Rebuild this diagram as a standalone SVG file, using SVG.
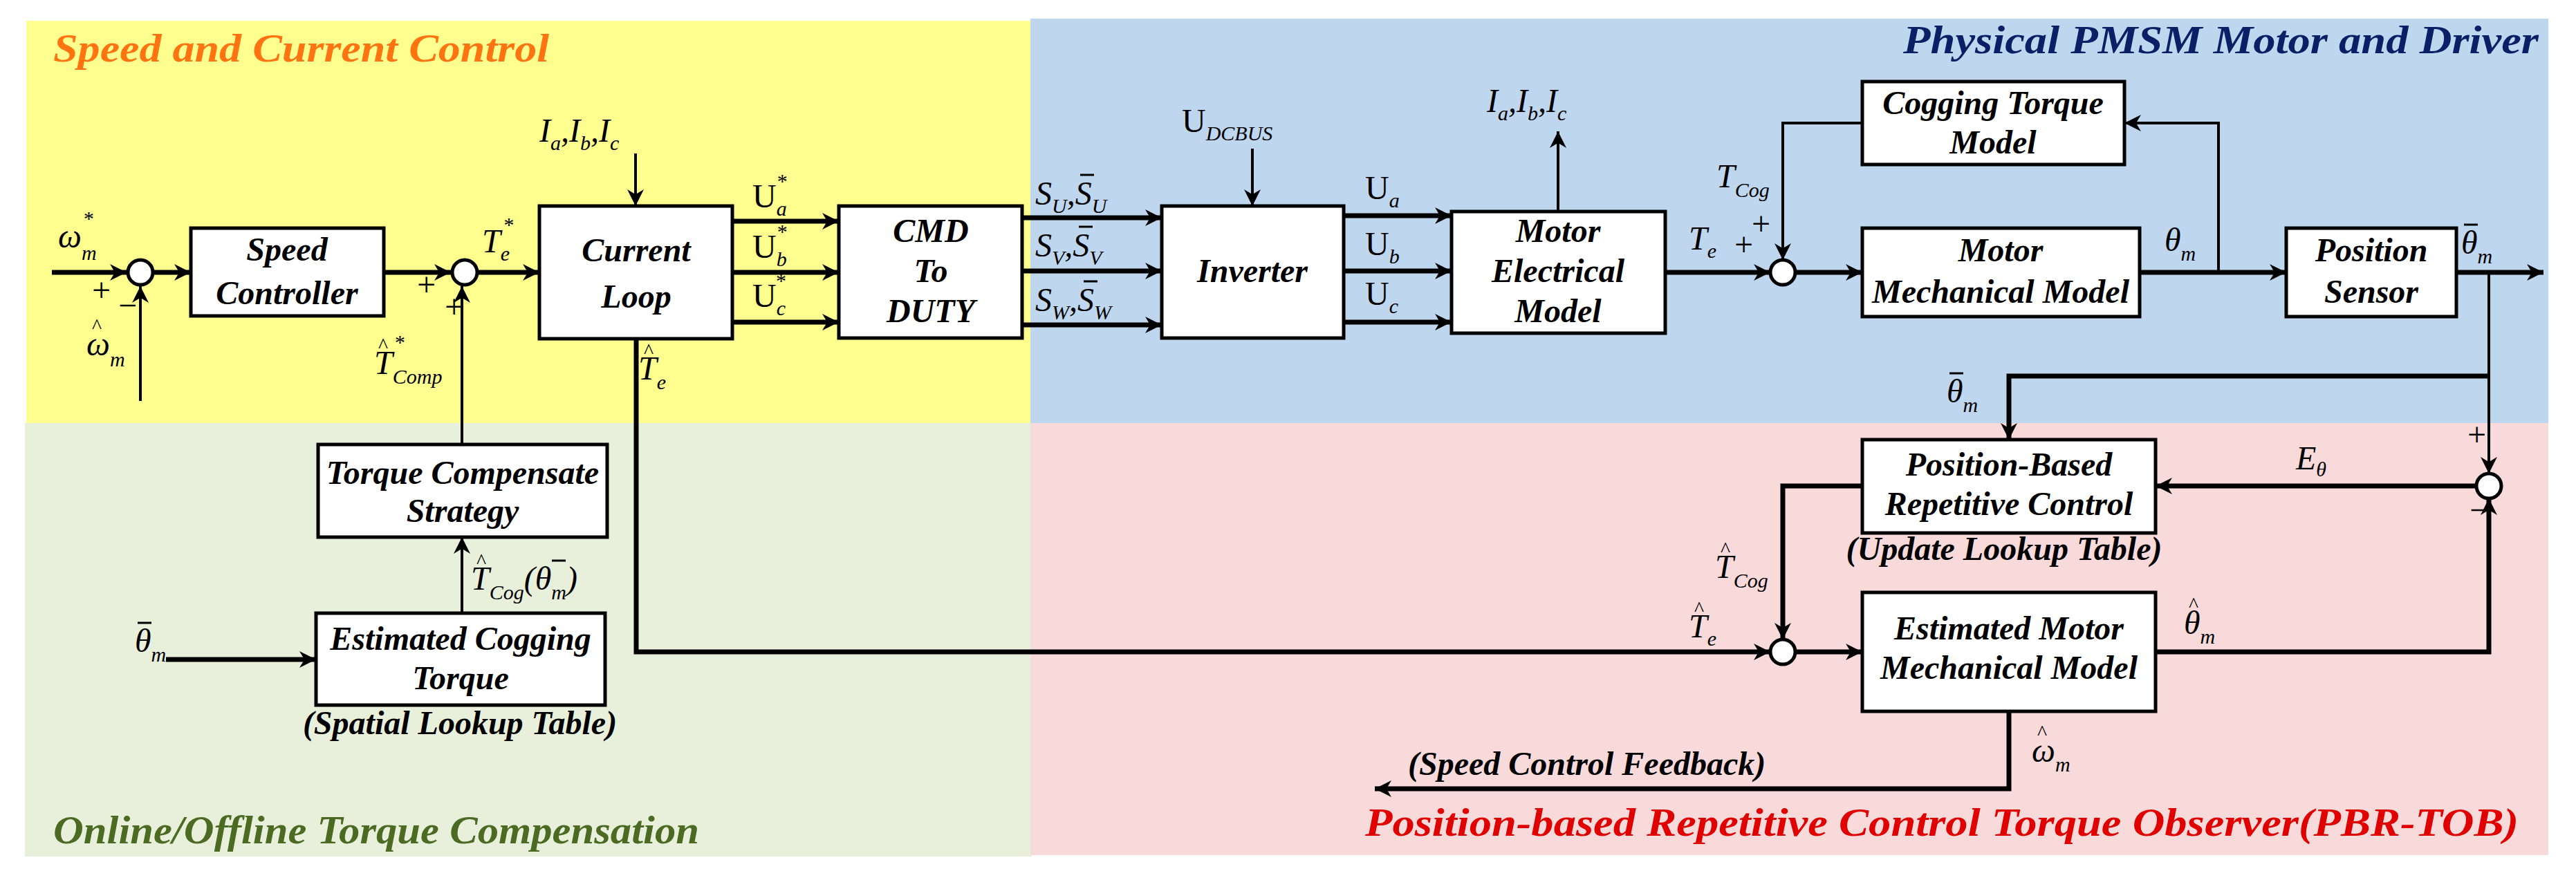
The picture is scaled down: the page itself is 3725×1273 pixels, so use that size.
<svg xmlns="http://www.w3.org/2000/svg" width="3725" height="1273" viewBox="0 0 3725 1273">
<style>
.box{fill:#fff;stroke:#000;stroke-width:5}
.sum{fill:#fff;stroke:#000;stroke-width:5}
.thick{fill:none;stroke:#000;stroke-width:7}
.thin{fill:none;stroke:#000;stroke-width:4}
.bar{stroke:#000;stroke-width:3}
text{font-family:'Liberation Serif','Times New Roman','DejaVu Serif',serif}
.lbl{font-style:italic;font-weight:bold;font-size:48px;text-anchor:middle}
.m{font-style:italic;font-size:48px}
.s{font-size:30px}
.h{font-size:30px;font-style:normal}
.r{font-style:normal}
.ttl{font-style:italic;font-weight:bold;font-size:58px}
</style>
<defs>
<marker id="a" viewBox="0 0 10 10" refX="10" refY="5" markerWidth="28" markerHeight="24" markerUnits="userSpaceOnUse" orient="auto"><path d="M0,0 L10,5 L0,10 L3,5 Z" fill="#000"/></marker>
</defs>
<g id="regions">
<rect x="38" y="30" width="1454" height="582" fill="#ffff8f"/>
<rect x="36" y="612" width="1456" height="627" fill="#e8f0dc"/>
<rect x="1490" y="27" width="2195" height="585" fill="#bed6ee"/>
<rect x="1490" y="612" width="2195" height="625" fill="#f8dada"/>
<text class="ttl" x="77" y="89" fill="#ff7410" textLength="717" lengthAdjust="spacingAndGlyphs">Speed and Current Control</text>
<text class="ttl" x="2752" y="77" fill="#0b1f66" textLength="919" lengthAdjust="spacingAndGlyphs">Physical PMSM Motor and Driver</text>
<text class="ttl" x="77" y="1220" fill="#4b6a22" textLength="934" lengthAdjust="spacingAndGlyphs">Online/Offline Torque Compensation</text>
<text class="ttl" x="1974" y="1209" fill="#e00000" textLength="1668" lengthAdjust="spacingAndGlyphs">Position-based Repetitive Control Torque Observer(PBR-TOB)</text>
</g>
<g id="connectors">
<path class="thick" d="M75,394 H183" marker-end="url(#a)"/>
<path class="thin" d="M203,580 V414" marker-end="url(#a)"/>
<path class="thick" d="M221,394 H276" marker-end="url(#a)"/>
<path class="thick" d="M555,394 H652" marker-end="url(#a)"/>
<path class="thin" d="M668,643 V414" marker-end="url(#a)"/>
<path class="thick" d="M690,394 H780" marker-end="url(#a)"/>
<path class="thin" d="M919,222 V298" marker-end="url(#a)"/>
<path class="thick" d="M1059,320 H1213" marker-end="url(#a)"/>
<path class="thick" d="M1059,394 H1213" marker-end="url(#a)"/>
<path class="thick" d="M1059,466 H1213" marker-end="url(#a)"/>
<path class="thick" d="M1478,315 H1680" marker-end="url(#a)"/>
<path class="thick" d="M1478,392 H1680" marker-end="url(#a)"/>
<path class="thick" d="M1478,470 H1680" marker-end="url(#a)"/>
<path class="thin" d="M1811,215 V298" marker-end="url(#a)"/>
<path class="thick" d="M1943,312 H2099" marker-end="url(#a)"/>
<path class="thick" d="M1943,392 H2099" marker-end="url(#a)"/>
<path class="thick" d="M1943,466 H2099" marker-end="url(#a)"/>
<path class="thin" d="M2253,306 V190" marker-end="url(#a)"/>
<path class="thick" d="M2408,394 H2560" marker-end="url(#a)"/>
<path class="thin" d="M2693,178 H2578 V376" marker-end="url(#a)"/>
<path class="thick" d="M2596,394 H2693" marker-end="url(#a)"/>
<path class="thick" d="M3094,394 H3306" marker-end="url(#a)"/>
<path class="thin" d="M3208,394 V178 H3072" marker-end="url(#a)"/>
<path class="thick" d="M3552,394 H3678" marker-end="url(#a)"/>
<path class="thin" d="M3599,394 V685" marker-end="url(#a)"/>
<path class="thick" d="M3599,544 H2905 V636" marker-end="url(#a)"/>
<path class="thick" d="M3581,703 H3117" marker-end="url(#a)"/>
<path class="thick" d="M2693,703 H2578 V925" marker-end="url(#a)"/>
<path class="thick" d="M920,490 V943 H2560" marker-end="url(#a)"/>
<path class="thick" d="M2596,943 H2693" marker-end="url(#a)"/>
<path class="thick" d="M3117,943 H3599 V721" marker-end="url(#a)"/>
<path class="thick" d="M2905,1029 V1141 H1988" marker-end="url(#a)"/>
<path class="thin" d="M668,887 V777" marker-end="url(#a)"/>
<path class="thick" d="M240,954 H457" marker-end="url(#a)"/>
</g>
<g id="sum1"><circle class="sum" cx="203" cy="394" r="18"/></g>
<g id="sum2"><circle class="sum" cx="672" cy="394" r="18"/></g>
<g id="sum3"><circle class="sum" cx="2578" cy="394" r="18"/></g>
<g id="sum4"><circle class="sum" cx="3599" cy="703" r="18"/></g>
<g id="sum5"><circle class="sum" cx="2578" cy="943" r="18"/></g>
<g id="speed-controller"><rect class="box" x="276" y="330" width="279" height="127"/>
<text class="lbl" x="415" y="377">Speed</text><text class="lbl" x="415" y="440">Controller</text></g>
<g id="current-loop"><rect class="box" x="780" y="298" width="279" height="192"/>
<text class="lbl" x="920" y="378">Current</text><text class="lbl" x="920" y="445">Loop</text></g>
<g id="cmd-duty"><rect class="box" x="1213" y="298" width="265" height="191"/>
<text class="lbl" x="1346" y="350">CMD</text><text class="lbl" x="1346" y="408">To</text><text class="lbl" x="1346" y="466">DUTY</text></g>
<g id="inverter"><rect class="box" x="1680" y="298" width="263" height="191"/>
<text class="lbl" x="1811" y="408">Inverter</text></g>
<g id="motor-electrical"><rect class="box" x="2099" y="306" width="309" height="176"/>
<text class="lbl" x="2253" y="350">Motor</text><text class="lbl" x="2253" y="408">Electrical</text><text class="lbl" x="2253" y="466">Model</text></g>
<g id="cogging-model"><rect class="box" x="2693" y="118" width="379" height="120"/>
<text class="lbl" x="2882" y="165">Cogging Torque</text><text class="lbl" x="2882" y="222">Model</text></g>
<g id="motor-mechanical"><rect class="box" x="2693" y="330" width="401" height="128"/>
<text class="lbl" x="2893" y="378">Motor</text><text class="lbl" x="2893" y="438">Mechanical Model</text></g>
<g id="position-sensor"><rect class="box" x="3306" y="330" width="246" height="128"/>
<text class="lbl" x="3429" y="378">Position</text><text class="lbl" x="3429" y="438">Sensor</text></g>
<g id="pbrc"><rect class="box" x="2693" y="636" width="424" height="135"/>
<text class="lbl" x="2905" y="688">Position-Based</text><text class="lbl" x="2905" y="745">Repetitive Control</text>
<text class="lbl" x="2898" y="810">(Update Lookup Table)</text></g>
<g id="emmm"><rect class="box" x="2693" y="857" width="424" height="172"/>
<text class="lbl" x="2905" y="925">Estimated Motor</text><text class="lbl" x="2905" y="982">Mechanical Model</text></g>
<g id="tcs"><rect class="box" x="460" y="643" width="418" height="134"/>
<text class="lbl" x="669" y="700">Torque Compensate</text><text class="lbl" x="669" y="755">Strategy</text></g>
<g id="ect"><rect class="box" x="457" y="887" width="418" height="133"/>
<text class="lbl" x="666" y="940">Estimated Cogging</text><text class="lbl" x="666" y="997">Torque</text>
<text class="lbl" x="665" y="1062">(Spatial Lookup Table)</text></g>
<g id="labels" class="m">
<text class="m" x="84" y="358">ω<tspan class="s" dy="18">m</tspan><tspan class="s" dx="-20" dy="-50">*</tspan></text>
<text class="m" x="130" y="436">+</text><text class="m" x="168" y="458">−</text>
<text class="m" x="125" y="514">ω<tspan class="s" dy="16">m</tspan></text><text class="h" x="133" y="482">^</text>
<text class="m" x="600" y="428">+</text><text class="m" x="640" y="460">+</text>
<text class="m" x="697" y="365">T<tspan class="s" dy="12">e</tspan><tspan class="s" dx="-10" dy="-42">*</tspan></text>
<text class="m" x="541" y="541">T<tspan class="s" dy="14">Comp</tspan><tspan class="s" dx="-70" dy="-50">*</tspan></text><text class="h" x="547" y="510">^</text>
<text class="m" x="923" y="549">T<tspan class="s" dy="14">e</tspan></text><text class="h" x="931" y="518">^</text>
<text class="m" x="780" y="205">I<tspan class="s" dy="12">a</tspan><tspan dy="-12">,I</tspan><tspan class="s" dy="12">b</tspan><tspan dy="-12">,I</tspan><tspan class="s" dy="12">c</tspan></text>
<text class="m r" x="1088" y="300">U<tspan class="s m" dy="12">a</tspan><tspan class="s" dx="-14" dy="-40">*</tspan></text>
<text class="m r" x="1088" y="373">U<tspan class="s m" dy="12">b</tspan><tspan class="s" dx="-14" dy="-40">*</tspan></text>
<text class="m r" x="1088" y="444">U<tspan class="s m" dy="12">c</tspan><tspan class="s" dx="-14" dy="-40">*</tspan></text>
<text class="m" x="1497" y="296">S<tspan class="s" dy="12">U</tspan><tspan dy="-12">,S</tspan><tspan class="s" dy="12">U</tspan></text>
<line class="bar" x1="1562" y1="253" x2="1582" y2="253"/>
<text class="m" x="1497" y="371">S<tspan class="s" dy="12">V</tspan><tspan dy="-12">,S</tspan><tspan class="s" dy="12">V</tspan></text>
<line class="bar" x1="1560" y1="328" x2="1580" y2="328"/>
<text class="m" x="1497" y="450">S<tspan class="s" dy="12">W</tspan><tspan dy="-12">,S</tspan><tspan class="s" dy="12">W</tspan></text>
<line class="bar" x1="1567" y1="407" x2="1587" y2="407"/>
<text class="m r" x="1709" y="191">U<tspan class="s m" dy="12">DCBUS</tspan></text>
<text class="m r" x="1974" y="288">U<tspan class="s m" dy="12">a</tspan></text>
<text class="m r" x="1974" y="369">U<tspan class="s m" dy="12">b</tspan></text>
<text class="m r" x="1974" y="441">U<tspan class="s m" dy="12">c</tspan></text>
<text class="m" x="2150" y="162">I<tspan class="s" dy="12">a</tspan><tspan dy="-12">,I</tspan><tspan class="s" dy="12">b</tspan><tspan dy="-12">,I</tspan><tspan class="s" dy="12">c</tspan></text>
<text class="m" x="2482" y="271">T<tspan class="s" dy="14">Cog</tspan></text>
<text class="m" x="2530" y="340">+</text><text class="m" x="2505" y="370">+</text>
<text class="m" x="2442" y="361">T<tspan class="s" dy="12">e</tspan></text>
<text class="m" x="3130" y="363">θ<tspan class="s" dy="14">m</tspan></text>
<text class="m" x="3559" y="367">θ<tspan class="s" dy="14">m</tspan></text><line class="bar" x1="3563" y1="325" x2="3583" y2="325"/>
<text class="m" x="2815" y="582">θ<tspan class="s" dy="14">m</tspan></text><line class="bar" x1="2819" y1="540" x2="2839" y2="540"/>
<text class="m" x="3565" y="645">+</text><text class="m" x="3568" y="754">−</text>
<text class="m" x="3320" y="679">E<tspan class="s" dy="10">θ</tspan></text>
<text class="m" x="2480" y="836">T<tspan class="s" dy="14">Cog</tspan></text><text class="h" x="2488" y="805">^</text>
<text class="m" x="2442" y="922">T<tspan class="s" dy="12">e</tspan></text><text class="h" x="2450" y="891">^</text>
<text class="m" x="3158" y="917">θ<tspan class="s" dy="14">m</tspan></text><text class="h" x="3165" y="885">^</text>
<text class="m" x="2938" y="1102">ω<tspan class="s" dy="14">m</tspan></text><text class="h" x="2946" y="1070">^</text>
<text class="m" x="681" y="853">T<tspan class="s" dy="14">Cog</tspan><tspan dy="-14">(θ</tspan><tspan class="s" dy="14">m</tspan><tspan dy="-14">)</tspan></text><text class="h" x="689" y="822">^</text>
<line class="bar" x1="798" y1="811" x2="818" y2="811"/>
<text class="m" x="195" y="943">θ<tspan class="s" dy="14">m</tspan></text><line class="bar" x1="199" y1="901" x2="219" y2="901"/>
</g>
<text class="lbl" x="2036" y="1121" style="text-anchor:start">(Speed Control Feedback)</text>
</svg>
